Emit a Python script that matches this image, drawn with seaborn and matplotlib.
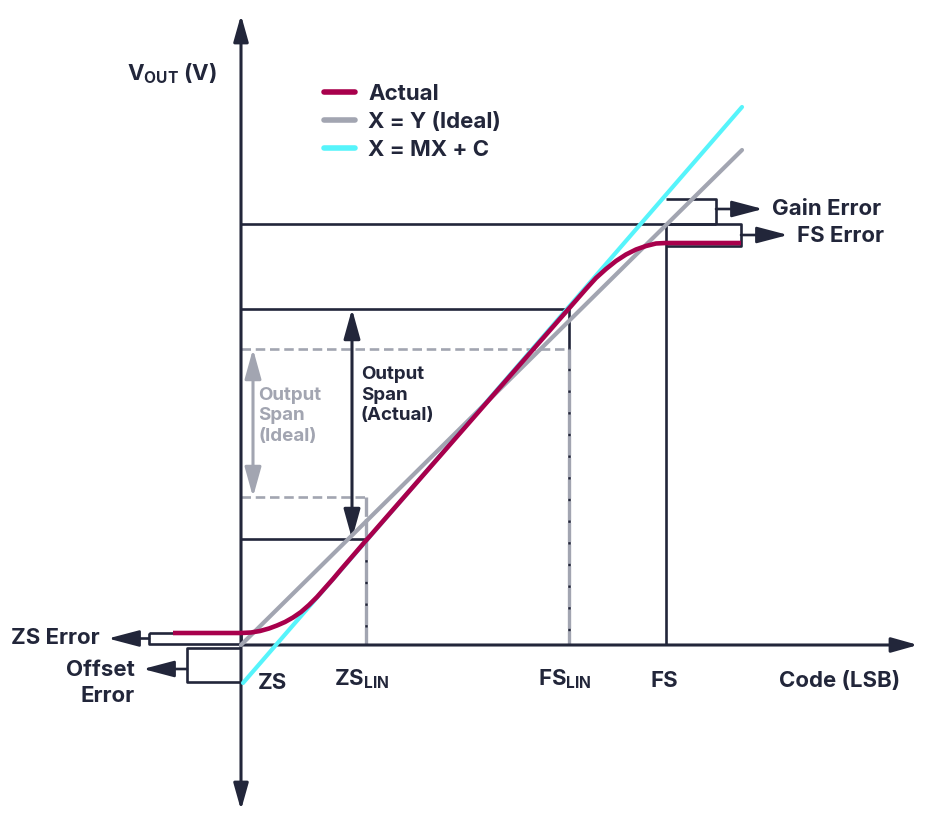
import matplotlib
matplotlib.use("Agg")
import matplotlib.pyplot as plt
import seaborn as sns

# Values in chart units: code (x) and output voltage (y), origin at axis crossing
actual_code = [-68, 0, 10, 19, 28, 36, 44, 52, 60, 68, 76, 84, 92, 100, 122, 345,
               355, 365, 375, 385, 395, 405, 415, 425, 500]
actual_vout = [12, 12, 12.5, 14, 16.5, 19.5, 23, 27.5, 33, 40, 48, 57, 66, 75.5, 101, 356,
               367, 376, 384, 390.5, 395.5, 399, 401.5, 402, 402]
ideal_code = [0, 501]
ideal_vout = [0, 495]
fit_code = [2, 501]
fit_vout = [-38, 538]

ZS, ZS_LIN, FS_LIN, FS = 0, 125, 328, 425
zs_lin_actual, zs_lin_ideal = 106, 148
fs_lin_actual, fs_lin_ideal = 336, 296
fs_ideal_top, gain_top, fs_actual = 421, 446, 399
zs_err_top, zs_err_bot = 12, 1
off_top, off_bot = -3, -37
gain_right, fs_right = 475, 500
zs_err_left, off_left = -92, -54

DARK = "#22263A"
RED = "#A8004C"
GRAY = "#A2A5B1"
CYAN = "#56F4FB"

sns.set_style("white")
plt.rcParams['font.family'] = ['Inter', 'DejaVu Sans']
plt.rcParams['mathtext.fontset'] = 'custom'
plt.rcParams['mathtext.rm'] = 'Inter:bold'
plt.rcParams['mathtext.it'] = 'Inter:bold'
plt.rcParams['mathtext.bf'] = 'Inter:bold'

fig = plt.figure(figsize=(9.43, 8.24), dpi=100)
ax = fig.add_axes([0, 0, 1, 1])
ax.set_xlim(-241, 702)
ax.set_ylim(-179, 645)
ax.axis('off')

lw_box = 1.9
def seg(xs, ys, color=DARK, lw=lw_box, ls='-', z=2):
    ax.plot(xs, ys, color=color, lw=lw, ls=ls, zorder=z, solid_capstyle='butt',
            dash_capstyle='butt')

def arrow(x0, y0, x1, y1, color=DARK, lw=1.9, hl=1.9, hw=0.5, style='-|>', z=3):
    ax.annotate('', xy=(x1, y1), xytext=(x0, y0),
                arrowprops=dict(arrowstyle=f'{style},head_length={hl},head_width={hw}',
                                color=color, lw=lw, shrinkA=0, shrinkB=0,
                                mutation_scale=10), zorder=z)

# axes with arrows
arrow(0, -165, 0, 630, lw=2.2, hl=1.6, hw=0.45, style='<|-|>')
arrow(0, 0, 677, 0, lw=2.2, hl=1.6, hw=0.45)

# reference boxes and lines
seg([0, gain_right], [fs_ideal_top, fs_ideal_top])
seg([FS, gain_right, gain_right], [gain_top, gain_top, fs_ideal_top])
seg([FS, fs_right, fs_right, FS], [fs_ideal_top, fs_ideal_top, fs_actual, fs_actual])
seg([FS, FS], [0, fs_ideal_top])
arrow(gain_right, 436, 522, 436)
arrow(fs_right, 410, 547, 410)

seg([0, FS_LIN, FS_LIN], [fs_lin_actual, fs_lin_actual, 0])
seg([0, ZS_LIN, ZS_LIN], [zs_lin_actual, zs_lin_actual, 0])
dash_h = (0, (3.6, 1.8))
dash_v = (0, (5.8, 0.7))
seg([0, FS_LIN], [fs_lin_ideal, fs_lin_ideal], color=GRAY, ls=dash_h)
seg([FS_LIN, FS_LIN], [fs_lin_ideal, 0], color=GRAY, ls=dash_v, lw=2.4, z=2.5)
seg([0, ZS_LIN], [zs_lin_ideal, zs_lin_ideal], color=GRAY, ls=dash_h, z=2.5)
seg([ZS_LIN, ZS_LIN], [zs_lin_ideal, 0], color=GRAY, ls=dash_v, lw=2.4, z=2.5)

seg([zs_err_left, 0, 0, zs_err_left, zs_err_left],
    [zs_err_top, zs_err_top, zs_err_bot, zs_err_bot, zs_err_top])
seg([0, off_left, off_left, 0], [off_top, off_top, off_bot, off_bot])
arrow(zs_err_left, 6.5, -133, 6.5)
arrow(off_left, -24, -98, -24)

# span arrows
arrow(111, zs_lin_actual, 111, fs_lin_actual, style='<|-|>', lw=2.2, hl=1.8, hw=0.5)
arrow(12, zs_lin_ideal, 12, fs_lin_ideal, color=GRAY, style='<|-|>', lw=2.2, hl=1.8, hw=0.5)

# curves
sns.lineplot(x=ideal_code, y=ideal_vout, ax=ax, color=GRAY, lw=3.0, zorder=4,
             estimator=None, sort=False, solid_capstyle='round', label='X = Y (Ideal)')
sns.lineplot(x=fit_code, y=fit_vout, ax=ax, color=CYAN, lw=3.0, zorder=4,
             estimator=None, sort=False, solid_capstyle='round', label='X = MX + C')
sns.lineplot(x=actual_code, y=actual_vout, ax=ax, color=RED, lw=3.3, zorder=5,
             estimator=None, sort=False, solid_capstyle='butt', solid_joinstyle='round',
             label='Actual')

h, l = ax.get_legend_handles_labels()
order = [2, 0, 1]
leg = ax.legend([h[i] for i in order], [l[i] for i in order], loc='upper left',
                bbox_to_anchor=(0.322, 0.922), frameon=False, handlelength=1.4,
                handletextpad=0.6, labelspacing=0.36, prop=dict(size=16, weight='bold'))
for t in leg.get_texts():
    t.set_color(DARK)
for ln in leg.get_lines():
    ln.set_linewidth(4)
    ln.set_solid_capstyle('round')

# texts
tk = dict(color=DARK, fontsize=16, fontweight='bold')
ax.text(-114, 571, r'V$_{\mathrm{OUT}}$ (V)', ha='left', va='center', **tk)
ax.text(-141, 6.5, 'ZS Error', ha='right', va='center', **tk)
ax.text(-106, -38, 'Offset\nError', ha='right', va='center', linespacing=1.35, **tk)
ax.text(31, -38, 'ZS', ha='center', va='center', **tk)
ax.text(ZS_LIN - 4, -34, r'ZS$_{\mathrm{LIN}}$', ha='center', va='center', **tk)
ax.text(FS_LIN - 4, -34, r'FS$_{\mathrm{LIN}}$', ha='center', va='center', **tk)
ax.text(FS - 2, -36, 'FS', ha='center', va='center', **tk)
ax.text(659, -36, 'Code (LSB)', ha='right', va='center', **tk)
ax.text(531, 436, 'Gain Error', ha='left', va='center', **tk)
ax.text(556, 409, 'FS Error', ha='left', va='center', **tk)
ax.text(120, 250, 'Output\nSpan\n(Actual)', ha='left', va='center', color=DARK,
        fontsize=13.5, fontweight='bold', linespacing=1.27)
ax.text(17, 229, 'Output\nSpan\n(Ideal)', ha='left', va='center', color=GRAY,
        fontsize=13.5, fontweight='bold', linespacing=1.27)

fig.savefig('out.png', dpi=100)
